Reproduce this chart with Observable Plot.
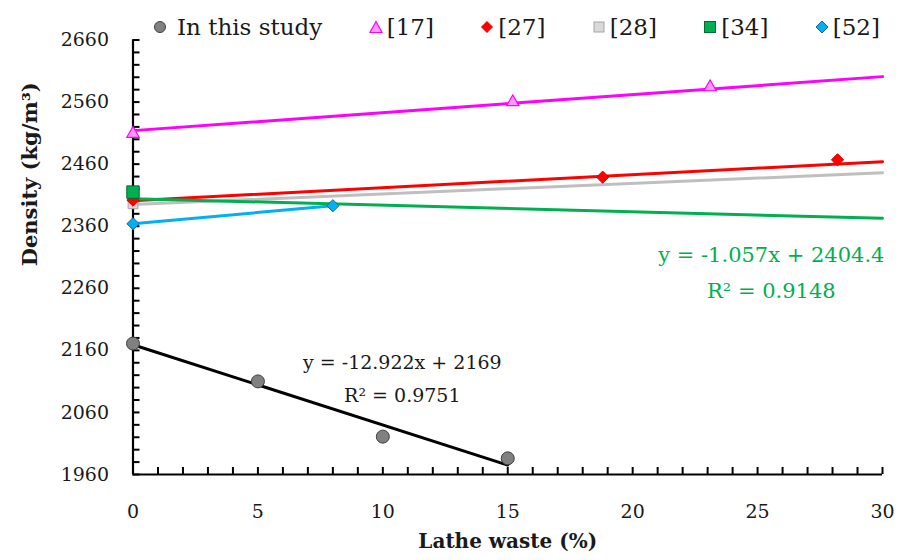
<!DOCTYPE html>
<html>
<head>
<meta charset="utf-8">
<script src="https://cdn.jsdelivr.net/npm/d3@7"></script>
<script src="https://cdn.jsdelivr.net/npm/@observablehq/plot@0.6"></script>
<style>
  body { margin: 0; background: #fff; font-family: "DejaVu Serif", serif; }
  #legend { height: 24px; position: relative; z-index: 1; }
  #legend .row { position: absolute; top: 15px; left: 153px; height: 24px; display: flex; align-items: center; }
  #legend .item { display: flex; align-items: center; font-size: 23px; color: #1a1a1a; white-space: nowrap; }
  #legend .item svg { width: 14px; height: 14px; margin-right: 10px; flex: none; }
  #legend .item.first { width: 215.7px; }
  #legend .item.rest { width: 111.5px; }
  #legend .item.rest svg { margin-right: 4px; }
  #chart svg { display: block; }
</style>
</head>
<body>
<div id="legend"><div class="row" id="legendRow"></div></div>
<div id="chart"></div>
<script>
// ---- data ----
const seriesNames = ["In this study", "[17]", "[27]", "[28]", "[34]", "[52]"];

const studyX = [0, 5, 10, 15];
const studyY = [2171, 2110, 2021, 1986];

const r17X = [0, 15.2, 23.1];
const r17Y = [2509, 2560, 2584];

const r27X = [0, 18.8, 28.2];
const r27Y = [2402, 2439, 2467];

const r28X = [0];
const r28Y = [2396];

const r34X = [0];
const r34Y = [2415];

const r52X = [0, 8];
const r52Y = [2364, 2393];

// trendlines (end points)
const trendX = [0, 30];
const trend17Y = [2514, 2601];
const trend27Y = [2401, 2464];
const trend28Y = [2395, 2446];
const trend34Y = [2404.4, 2372.7];
const studyTrendX = [0, 15];
const studyTrendY = [2169, 1975.2];

// equations
const eqStudy = ["y = -12.922x + 2169", "R\u00b2 = 0.9751"];
const eqStudyX = 10.78;
const eqStudyY = [2139, 2087];
const eq34 = ["y = -1.057x + 2404.4", "R\u00b2 = 0.9148"];
const eq34X = 25.55;
const eq34Y = [2313, 2256];

// ticks
const xTicks = [0, 5, 10, 15, 20, 25, 30];
const yTicks = [1960, 2060, 2160, 2260, 2360, 2460, 2560, 2660];
const xMinor = [0,1,2,3,4,5,6,7,8,9,10,11,12,13,14,15,16,17,18,19,20,21,22,23,24,25,26,27,28,29,30];
const yMinor = [1960,1980,2000,2020,2040,2060,2080,2100,2120,2140,2160,2180,2200,2220,2240,2260,2280,2300,2320,2340,2360,2380,2400,2420,2440,2460,2480,2500,2520,2540,2560,2580,2600,2620,2640,2660];

const xLabel = "Lathe waste (%)";
const yLabel = "Density (kg/m\u00b3)";

// ---- layout ----
const W = 901, H = 536;
const mL = 132.5, mR = 19, mT = 15.5, mB = 86;
const xDomain = [0, 30], yDomain = [1960, 2660];
const frameW = W - mL - mR, frameH = H - mT - mB;
const yTickLen = 7, xTickLen = 7; // pixels
const yTickDx = yTickLen * (xDomain[1] - xDomain[0]) / frameW;  // in x units
const xTickDy = xTickLen * (yDomain[1] - yDomain[0]) / frameH;  // in y units

// ---- helpers ----
const pts = (xs, ys) => xs.map((x, i) => ({x, y: ys[i]}));
const labelled = (ts, x, ys) => ts.map((t, i) => ({t, x, y: ys[i]}));

// ---- legend ----
const legendMarkers = [
  '<circle cx="7" cy="7" r="5.5" fill="#808080" stroke="#3f3f3f" stroke-width="1"/>',
  '<polygon points="7,1.5 13,12.5 1,12.5" fill="#ff99ff" stroke="#ff00ff" stroke-width="1.2"/>',
  '<polygon points="7,1.5 12.5,7 7,12.5 1.5,7" fill="#ff0000" stroke="#e00000" stroke-width="1"/>',
  '<rect x="2" y="2" width="10" height="10" fill="#d9d9d9" stroke="#a5a5a5" stroke-width="1"/>',
  '<rect x="1.5" y="1.5" width="11" height="11" fill="#00b050" stroke="#006b32" stroke-width="1"/>',
  '<polygon points="7,1 13,7 7,13 1,7" fill="#00b0f0" stroke="#1f5fa8" stroke-width="1"/>'
];
const row = document.getElementById("legendRow");
seriesNames.forEach((name, i) => {
  const item = document.createElement("div");
  item.className = "item " + (i === 0 ? "first" : "rest");
  item.innerHTML = `<svg viewBox="0 0 14 14">${legendMarkers[i]}</svg><span>${name}</span>`;
  row.appendChild(item);
});

// ---- chart ----
const chart = Plot.plot({
  width: W,
  height: H,
  marginLeft: mL,
  marginRight: mR,
  marginTop: mT,
  marginBottom: mB,
  style: {fontFamily: '"DejaVu Serif", serif', fontSize: "19px", color: "#1a1a1a", background: "transparent", overflow: "visible"},
  x: {domain: xDomain},
  y: {domain: yDomain},
  marks: [
    Plot.axisY({ticks: yTicks, tickSize: 0, tickPadding: 24, label: null, fill: "#1a1a1a", tickFormat: d => String(d), fontSize: 19}),
    Plot.axisX({ticks: xTicks, tickSize: 0, tickPadding: 30, label: null, fill: "#1a1a1a", tickFormat: d => String(d), fontSize: 19}),
    // inward minor/major ticks
    Plot.ruleY(yMinor, {y: d => d, x1: xDomain[0], x2: xDomain[0] + yTickDx, stroke: "#000", strokeWidth: 2}),
    Plot.ruleX(xMinor, {x: d => d, y1: yDomain[0], y2: yDomain[0] + xTickDy, stroke: "#000", strokeWidth: 2}),
    // axis lines
    Plot.ruleX([xDomain[0]], {stroke: "#000", strokeWidth: 2.2}),
    Plot.ruleY([yDomain[0]], {stroke: "#000", strokeWidth: 2.2}),

    // trendlines / series lines
    Plot.line(pts(trendX, trend28Y), {x: "x", y: "y", stroke: "#bfbfbf", strokeWidth: 3}),
    Plot.line(pts(trendX, trend27Y), {x: "x", y: "y", stroke: "#ff0000", strokeWidth: 3}),
    Plot.line(pts(trendX, trend34Y), {x: "x", y: "y", stroke: "#00b050", strokeWidth: 3}),
    Plot.line(pts(trendX, trend17Y), {x: "x", y: "y", stroke: "#ff00ff", strokeWidth: 3}),
    Plot.line(pts(r52X, r52Y), {x: "x", y: "y", stroke: "#00b0f0", strokeWidth: 3}),
    Plot.line(pts(studyTrendX, studyTrendY), {x: "x", y: "y", stroke: "#000", strokeWidth: 3}),

    // markers
    Plot.dot(pts(r28X, r28Y), {x: "x", y: "y", symbol: "square", r: 5.5, fill: "#d9d9d9", stroke: "#a5a5a5", strokeWidth: 1}),
    Plot.dot(pts(r27X, r27Y), {x: "x", y: "y", symbol: "diamond2", r: 5.5, fill: "#ff0000", stroke: "#e00000", strokeWidth: 1}),
    Plot.dot(pts(r52X, r52Y), {x: "x", y: "y", symbol: "diamond2", r: 5.5, fill: "#00b0f0", stroke: "#1f5fa8", strokeWidth: 1}),
    Plot.dot(pts(r17X, r17Y), {x: "x", y: "y", symbol: "triangle", r: 4.6, fill: "#ff99ff", stroke: "#ff00ff", strokeWidth: 1.2}),
    Plot.dot(pts(r34X, r34Y), {x: "x", y: "y", symbol: "square", r: 7, fill: "#00b050", stroke: "#006b32", strokeWidth: 1}),
    Plot.dot(pts(studyX, studyY), {x: "x", y: "y", r: 6.5, fill: "#808080", stroke: "#3f3f3f", strokeWidth: 1}),

    // equations
    Plot.text(labelled(eqStudy, eqStudyX, eqStudyY), {x: "x", y: "y", text: "t", fontSize: 19, fill: "#1a1a1a"}),
    Plot.text(labelled(eq34, eq34X, eq34Y), {x: "x", y: "y", text: "t", fontSize: 21, fill: "#00b050"}),

    // axis titles
    Plot.text([yLabel], {frameAnchor: "left", rotate: -90, dx: -102.5, dy: 9, fontWeight: "bold", fontSize: 21, fill: "#1a1a1a"}),
    Plot.text([xLabel], {frameAnchor: "bottom", dy: 73, fontWeight: "bold", fontSize: 20, fill: "#1a1a1a"})
  ]
});
document.getElementById("chart").appendChild(chart);
</script>
</body>
</html>
